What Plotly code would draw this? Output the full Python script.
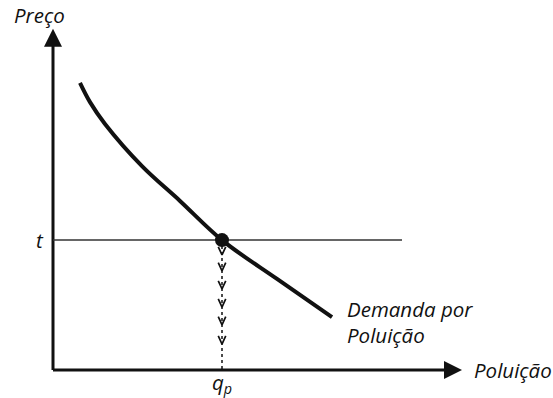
import plotly.graph_objects as go

# --- data (economic units) ---
demand_q = [0.54, 0.74, 1.04, 1.78, 2.54, 3.38, 4.48, 5.58]
demand_p = [7.76, 7.24, 6.65, 5.51, 4.57, 3.51, 2.46, 1.43]
tax_t = 3.51
tax_line_end = 6.98
q_p = 3.38
chevron_p = [3.11, 2.68, 2.19, 1.70, 1.22, 0.70]
x_axis_end = 8.18
y_axis_end = 9.22

FONT = "Open Sans"
FS = 20.5
fig = go.Figure()

# axes
fig.add_trace(go.Scatter(x=[0, 0, None, 0, x_axis_end - 0.2], y=[y_axis_end - 0.2, 0, None, 0, 0],
                         mode="lines", line=dict(color="#111", width=3)))
fig.add_trace(go.Scatter(x=[0], y=[y_axis_end], mode="markers",
                         marker=dict(symbol="arrow-up", size=18, color="#111", line=dict(width=0))))
fig.add_trace(go.Scatter(x=[x_axis_end], y=[0], mode="markers",
                         marker=dict(symbol="arrow-right", size=18, color="#111", line=dict(width=0))))

# horizontal t line
fig.add_trace(go.Scatter(x=[0, tax_line_end], y=[tax_t, tax_t], mode="lines",
                         line=dict(color="#333", width=1.5)))

# dotted vertical line
fig.add_trace(go.Scatter(x=[q_p, q_p], y=[tax_t, 0], mode="lines",
                         line=dict(color="#111", width=1.5, dash="dot")))

# chevrons
dx, dy = 0.075, 0.22
cx, cy = [], []
for p in chevron_p:
    cx += [q_p - dx, q_p, q_p + dx, None]
    cy += [p + dy, p, p + dy, None]
fig.add_trace(go.Scatter(x=cx, y=cy, mode="lines", line=dict(color="#111", width=1.7)))

# demand curve
fig.add_trace(go.Scatter(x=demand_q, y=demand_p, mode="lines",
                         line=dict(color="#111", width=4, shape="spline", smoothing=1.0)))

# dot
fig.add_trace(go.Scatter(x=[q_p], y=[tax_t], mode="markers", marker=dict(size=14, color="#111")))

ann = [
    dict(x=-0.82, y=9.59, text="<i>Preço</i>", xanchor="left", yanchor="middle"),
    dict(x=-0.26, y=tax_t, text="<i>t</i>", xanchor="center", yanchor="middle"),
    dict(x=q_p, y=-0.35, text="<i>q<sub>p</sub></i>", xanchor="center", yanchor="middle"),
    dict(x=5.84, y=1.65, text="<i>Demanda por</i>", xanchor="left", yanchor="middle"),
    dict(x=5.84, y=0.95, text="<i>Poluição</i>", xanchor="left", yanchor="middle"),
    dict(x=8.38, y=0.0, text="<i>Poluição</i>", xanchor="left", yanchor="middle"),
]
for a in ann:
    fig.add_annotation(showarrow=False, font=dict(family=FONT, size=FS, color="#111"), **a)

fig.update_layout(
    width=553, height=398, margin=dict(l=0, r=0, t=0, b=0),
    paper_bgcolor="white", plot_bgcolor="white", showlegend=False,
    xaxis=dict(range=[-1.06, 10], visible=False, fixedrange=True),
    yaxis=dict(range=[-0.757, 10], visible=False, fixedrange=True),
)
for tr in fig.data:
    tr.cliponaxis = False
    tr.hoverinfo = "skip"
fig.write_html("out.html", config={"displayModeBar": False},
               post_script="document.body.style.margin='0';")
